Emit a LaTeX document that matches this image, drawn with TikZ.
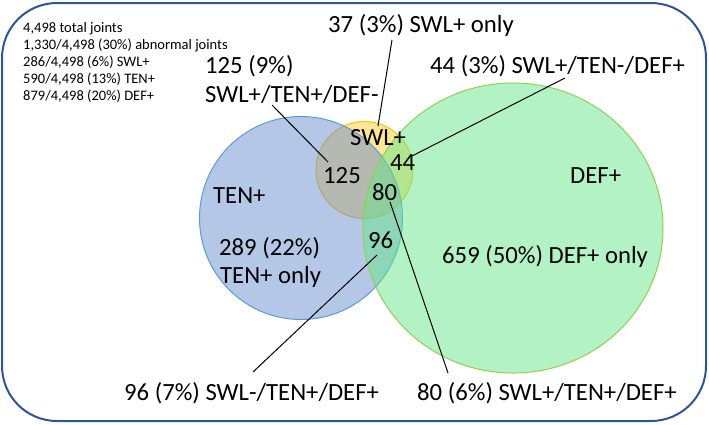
\documentclass[tikz,border=0pt]{standalone}
\usepackage{fontspec}
\setmainfont{Carlito}
\definecolor{framec}{RGB}{47,85,151}
\definecolor{bluef}{RGB}{105,143,207}
\definecolor{bluee}{RGB}{91,155,213}
\definecolor{greenf}{RGB}{103,229,137}
\definecolor{greene}{RGB}{146,208,80}
\definecolor{yelf}{RGB}{255,205,45}
\definecolor{yele}{RGB}{255,192,0}
\begin{document}
\begin{tikzpicture}[x=1pt,y=-1pt,
  stat/.style={font=\fontsize{14.5}{17}\selectfont, anchor=base west, inner sep=0pt},
  big/.style={font=\fontsize{24.7}{29}\selectfont, anchor=base west, inner sep=0pt},
  leader/.style={draw=black, line width=1pt},
  setc/.style={fill opacity=0.5, line width=1pt}
  ]
\useasboundingbox (0,0) rectangle (709,424);
\draw[framec, line width=2pt, rounded corners=55pt] (2,3) rectangle (706,421);
% sets
\path[setc, fill=yelf, draw=yele] (364.5,170) circle[radius=48.5];
\path[setc, fill=bluef, draw=bluee] (301,218) circle[radius=101.5];
\path[setc, fill=greenf, draw=greene] (513,228) ellipse[x radius=150, y radius=145];
% stats
\node[stat] (s1) at (23,32) {4,498 total joints};
\node[stat] (s2) at (23,49) {1,330/4,498 (30\%) abnormal joints};
\node[stat] (s3) at (23,66) {286/4,498 (6\%) SWL+};
\node[stat] (s4) at (23,83) {590/4,498 (13\%) TEN+};
\node[stat] (s5) at (23,100) {879/4,498 (20\%) DEF+};
% labels
\node[big] (l125a) at (205,73) {125 (9\%)};
\node[big] (l125b) at (205,102) {SWL+/TEN+/DEF-};
\node[big] (l37) at (328,32) {37 (3\%) SWL+ only};
\node[big] (l44) at (430,73) {44 (3\%) SWL+/TEN-/DEF+};
\node[big] (swl) at (350,145) {SWL+};
\node[big] (n44) at (390,170) {44};
\node[big] (n125) at (323,183) {125};
\node[big] (n80) at (372,200) {80};
\node[big] (n96) at (368,248) {96};
\node[big] (ten) at (213,203) {TEN+};
\node[big] (t289a) at (219,255) {289 (22\%)};
\node[big] (t289b) at (220,283) {TEN+ only};
\node[big] (def) at (570,183) {DEF+};
\node[big] (d659) at (442,263) {659 (50\%) DEF+ only};
\node[big] (l96) at (124,400) {96 (7\%) SWL-/TEN+/DEF+};
\node[big] (l80) at (417,400) {80 (6\%) SWL+/TEN+/DEF+};
% leader end points
\coordinate (a1) at (272,105); \coordinate (a2) at (328,162);
\coordinate (b1) at (392,40);  \coordinate (b2) at (378,126);
\coordinate (c1) at (565,78);  \coordinate (c2) at (410,157);
\coordinate (d1) at (390,202); \coordinate (d2) at (448,373);
\coordinate (e1) at (377,255); \coordinate (e2) at (253,372);
\draw[leader] (a1) -- (a2);
\draw[leader] (b1) -- (b2);
\draw[leader] (c1) -- (c2);
\draw[leader] (d1) -- (d2);
\draw[leader] (e1) -- (e2);
\end{tikzpicture}
\end{document}
